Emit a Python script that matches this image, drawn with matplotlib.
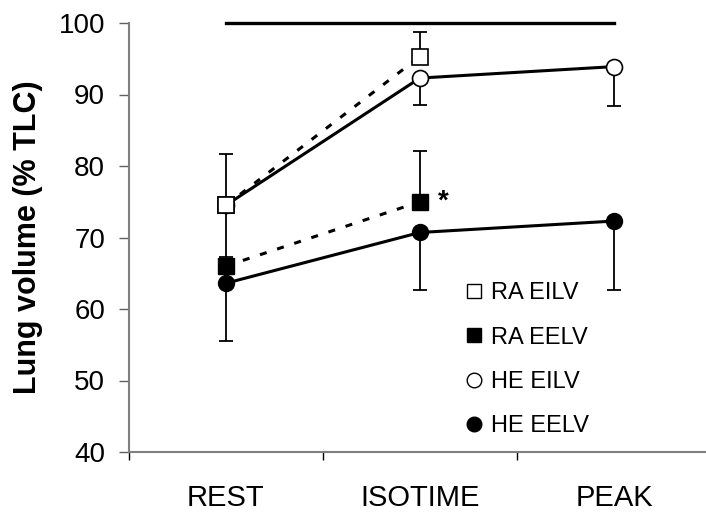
import matplotlib
matplotlib.use("Agg")
import matplotlib.pyplot as plt
from matplotlib.lines import Line2D

plt.rcParams["font.family"] = ["Liberation Sans", "DejaVu Sans"]

categories = ["REST", "ISOTIME", "PEAK"]

# mean values (% TLC)
ra_eilv = [74.5, 95.3]
ra_eelv = [66.0, 75.0]
he_eilv = [74.5, 92.3, 93.9]
he_eelv = [63.6, 70.7, 72.3]

# one-sided error bars
ra_eilv_up = [7.2, 3.4]
ra_eelv_up = [0.0, 7.1]
he_eilv_down = [7.2, 3.7, 5.5]
he_eelv_down = [8.1, 8.1, 9.7]

bar_y = 100
star_y = 75.0

fig = plt.figure(figsize=(7.06, 5.16), dpi=100)
ax = fig.add_axes([128.7 / 706, 1 - 452 / 516, (711 - 128.7) / 706, (452 - 23) / 516])

x_ra = list(range(len(ra_eilv)))
x_he = list(range(len(he_eilv)))

lw = 2.2
dash = (0, (2.3, 3.6))
ebkw = dict(ecolor="black", elinewidth=1.3, capsize=5, capthick=1.3, fmt="none", zorder=1)

ax.errorbar(x_ra, ra_eilv, yerr=[[0] * len(ra_eilv), ra_eilv_up], **ebkw)
ax.errorbar(x_ra, ra_eelv, yerr=[[0] * len(ra_eelv), ra_eelv_up], **ebkw)
ax.errorbar(x_he, he_eilv, yerr=[he_eilv_down, [0] * len(he_eilv)], **ebkw)
ax.errorbar(x_he, he_eelv, yerr=[he_eelv_down, [0] * len(he_eelv)], **ebkw)

ax.plot(x_ra, ra_eilv, color="black", lw=lw, ls=dash, marker="s", ms=11,
        mfc="white", mec="black", mew=1.2, zorder=3)
ax.plot(x_ra, ra_eelv, color="black", lw=lw, ls=dash, marker="s", ms=11,
        mfc="black", mec="black", zorder=3)
ax.plot(x_he, he_eilv, color="black", lw=lw, marker="o", ms=11.5,
        mfc="white", mec="black", mew=1.2, zorder=4)
ax.plot(x_he, he_eelv, color="black", lw=lw, marker="o", ms=11.5,
        mfc="black", mec="black", zorder=4)
# RA EILV rest marker on top of the solid line
ax.plot(x_ra[:1], ra_eilv[:1], ls="none", marker="s", ms=11,
        mfc="white", mec="black", mew=1.2, zorder=5)

ax.plot([0, len(categories) - 1], [bar_y, bar_y], color="black", lw=2.4, clip_on=False)
ax.text(1.12, star_y, "*", fontsize=20, fontweight="bold", ha="center", va="center")

ax.set_xlim(-0.5, 2.5)
ax.set_ylim(40, 100)
ax.set_yticks(range(40, 101, 10))
ax.set_xticks(range(len(categories)))
ax.set_xticklabels(categories)
ax.set_xticks([-0.5, 0.5, 1.5, 2.5], minor=True)
ax.tick_params(axis="x", which="major", length=0, pad=23, labelsize=21)
ax.tick_params(axis="x", which="minor", length=6, width=1, color="black")
ax.tick_params(axis="y", length=7, width=1, color="#606060", pad=10, labelsize=20)

for s in ["top", "right"]:
    ax.spines[s].set_visible(False)
for s in ["left", "bottom"]:
    ax.spines[s].set_color("#808080")
    ax.spines[s].set_linewidth(1.5)

ax.set_ylabel("Lung volume (% TLC)", fontsize=22, fontweight="bold", labelpad=11)

handles = [
    Line2D([], [], ls="none", marker="s", ms=10.5, mfc="white", mec="black", mew=1.0),
    Line2D([], [], ls="none", marker="s", ms=10.5, mfc="black", mec="black"),
    Line2D([], [], ls="none", marker="o", ms=10.5, mfc="white", mec="black", mew=1.0),
    Line2D([], [], ls="none", marker="o", ms=10.5, mfc="black", mec="black"),
]
labels = ["RA EILV", "RA EELV", "HE EILV", "HE EELV"]
ax.legend(handles, labels, loc="upper left", bbox_to_anchor=(0.562, 0.418),
          frameon=False, fontsize=17, labelspacing=0.95, handlelength=0.7,
          handletextpad=0.4, borderaxespad=0)

fig.savefig("out.png", dpi=100)
